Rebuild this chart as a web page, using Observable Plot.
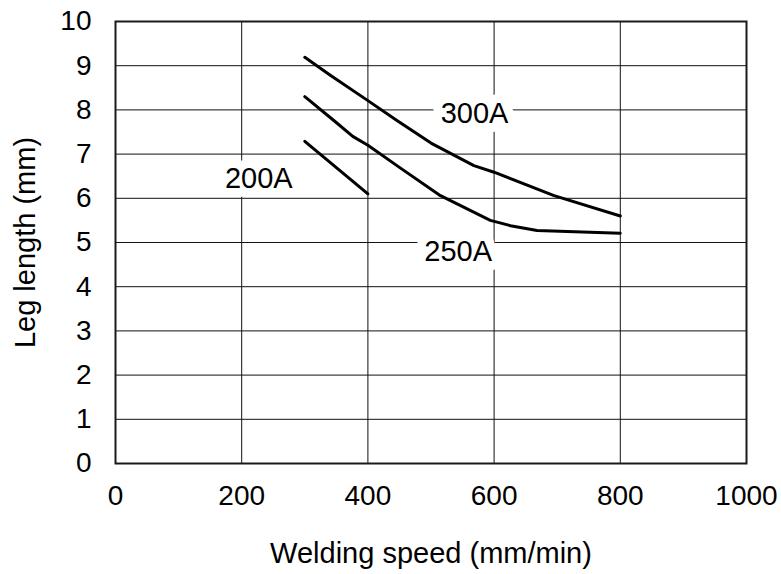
<!DOCTYPE html>
<html>
<head>
<meta charset="utf-8">
<script src="https://cdn.jsdelivr.net/npm/d3@7"></script>
<script src="https://cdn.jsdelivr.net/npm/@observablehq/plot@0.6"></script>
<style>
  html, body { margin: 0; padding: 0; background: #fff; }
  #chart svg { display: block; }
</style>
</head>
<body>
<div id="chart"></div>
<script>
// Data
const xTicks = [0, 200, 400, 600, 800, 1000];
const yTicks = [0, 1, 2, 3, 4, 5, 6, 7, 8, 9, 10];

const speed300 = [300, 341, 400, 446, 500, 568, 600, 695, 800];
const leg300   = [9.19, 8.78, 8.21, 7.76, 7.25, 6.74, 6.59, 6.06, 5.60];

const speed250 = [300, 346, 376, 400, 450, 515, 594, 626, 668, 800];
const leg250   = [8.30, 7.76, 7.40, 7.20, 6.70, 6.06, 5.50, 5.38, 5.27, 5.21];

const speed200 = [300, 400];
const leg200   = [7.29, 6.10];

const labelNames  = ["300A", "250A", "200A"];
const labelSpeeds = [569, 543, 227];
const labelLegs   = [7.92, 4.79, 6.45];

const rows = [
  ...speed300.map((s, i) => ({series: "300A", speed: s, leg: leg300[i]})),
  ...speed250.map((s, i) => ({series: "250A", speed: s, leg: leg250[i]})),
  ...speed200.map((s, i) => ({series: "200A", speed: s, leg: leg200[i]}))
];
const labels = labelNames.map((t, i) => ({text: t, speed: labelSpeeds[i], leg: labelLegs[i]}));

const font = "'Liberation Sans', Arial, sans-serif";

const chart = Plot.plot({
  width: 781,
  height: 574,
  marginLeft: 115,
  marginRight: 35,
  marginTop: 21,
  marginBottom: 111,
  style: {fontFamily: font, color: "#000", background: "#fff"},
  x: {domain: [0, 1000]},
  y: {domain: [0, 10]},
  marks: [
    Plot.gridX(xTicks, {stroke: "#111", strokeOpacity: 1, strokeWidth: 1}),
    Plot.gridY(yTicks, {stroke: "#111", strokeOpacity: 1, strokeWidth: 1}),
    Plot.frame({stroke: "#1a1a1a", strokeWidth: 2}),
    Plot.line(rows, {x: "speed", y: "leg", z: "series", stroke: "#000", strokeWidth: 3, curve: "linear"}),
    Plot.text(labels, {x: "speed", y: "leg", text: "text", fontSize: 29, fill: "#000",
      stroke: "#fff", strokeWidth: 18, paintOrder: "stroke", strokeLinejoin: "round"}),
    Plot.axisX({ticks: xTicks, tickSize: 0, tickPadding: 22, fontSize: 28, tickFormat: d3.format("d"), label: null}),
    Plot.axisX({ticks: [], tickSize: 0, fontSize: 29,
      label: "Welding speed (mm/min)", labelAnchor: "center", labelArrow: "none", labelOffset: 99}),
    Plot.axisY({ticks: yTicks, tickSize: 0, tickPadding: 24, fontSize: 28, tickFormat: d3.format("d"), label: null}),
    Plot.axisY({ticks: [], tickSize: 0, fontSize: 29,
      label: "Leg length (mm)", labelAnchor: "center", labelArrow: "none", labelOffset: 101})
  ]
});
document.getElementById("chart").appendChild(chart);
</script>
</body>
</html>
